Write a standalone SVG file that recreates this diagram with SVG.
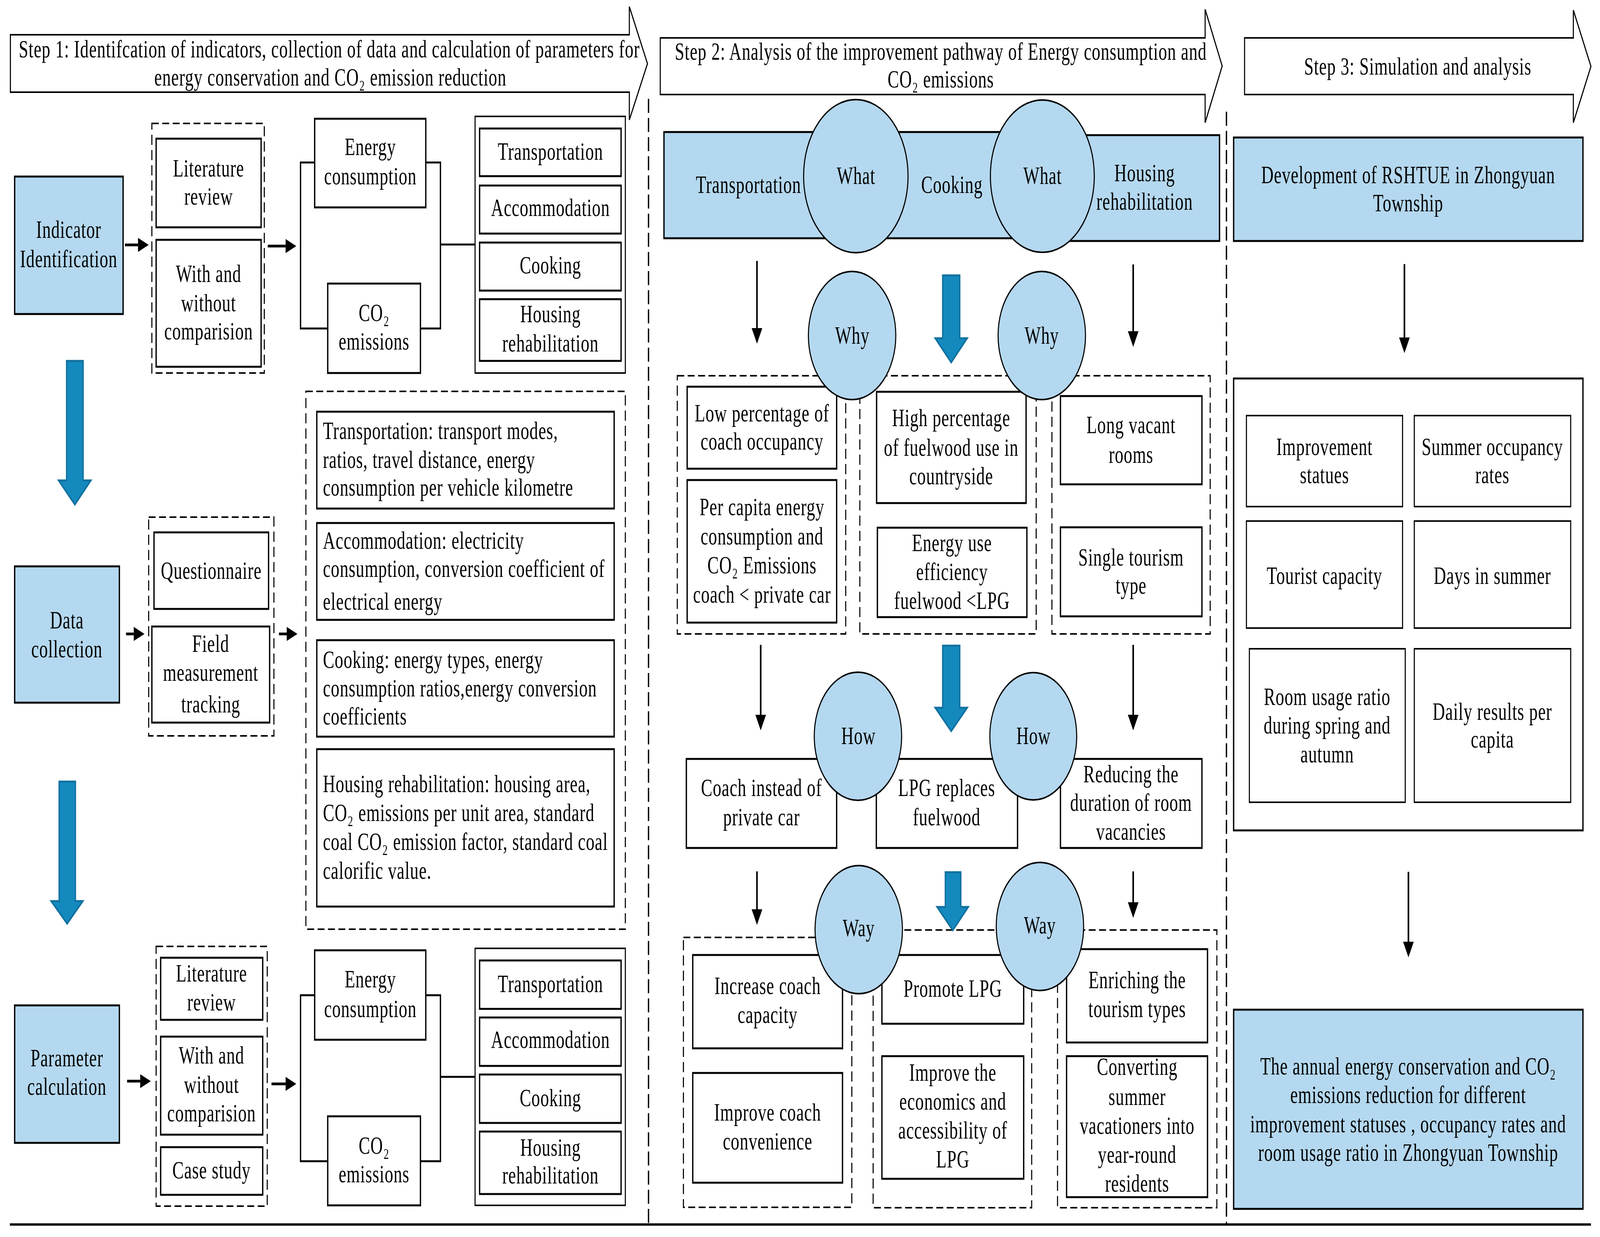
<svg xmlns="http://www.w3.org/2000/svg" width="6005" height="3167" viewBox="0 0 6005 3167" preserveAspectRatio="none" style="width:100vw;height:100vh;display:block">
<defs>
<style>
text{font-family:"Liberation Serif","Times New Roman",serif;font-size:64px;letter-spacing:1.5px;fill:#000}
.c{text-anchor:middle}
.box{fill:#fff;stroke:#000;stroke-width:5}
.thin{fill:#fff;stroke:#000;stroke-width:4}
.blue{fill:#B4D8EF;stroke:#000;stroke-width:5}
.circ{fill:#B4D8EF;stroke:#000;stroke-width:4}
.dash{fill:none;stroke:#000;stroke-width:4;stroke-dasharray:26 13}
.div{fill:none;stroke:#000;stroke-width:5;stroke-dasharray:36 13}
.ln{fill:none;stroke:#000;stroke-width:5}
.head{fill:#fff;stroke:#000;stroke-width:4}
.barr{fill:#1489BE;stroke:#10709E;stroke-width:5}
.ar{fill:none;stroke:#000;stroke-width:6;marker-end:url(#ah)}
.ars{fill:none;stroke:#000;stroke-width:7;marker-end:url(#ahs)}
</style>
<marker id="ah" viewBox="0 -20 40 40" markerWidth="40" markerHeight="40" refX="0" refY="0" orient="auto" markerUnits="userSpaceOnUse"><path d="M0,-20 L40,0 L0,20 z" fill="#000"/></marker>
<marker id="ahs" viewBox="0 -18 40 36" markerWidth="40" markerHeight="36" refX="0" refY="0" orient="auto" markerUnits="userSpaceOnUse"><path d="M0,-18 L40,0 L0,18 z" fill="#000"/></marker>
</defs>
<rect width="6005" height="3167" fill="#fff"/>

<g id="step1-header">
<polygon class="head" points="39,89 2362,89 2362,17 2430,163 2362,307 2362,236 39,236"/>
<text class="c" x="1236" y="147">Step 1: Identifcation of indicators, collection of data and calculation of parameters for</text>
<text class="c" x="1240" y="219">energy conservation and CO₂ emission reduction</text>
</g>
<g id="step2-header">
<polygon class="head" points="2478,97 4523,97 4523,24 4587,169 4523,314 4523,242 2478,242"/>
<text class="c" x="3531" y="153">Step 2: Analysis of the improvement pathway of Energy consumption and</text>
<text class="c" x="3531" y="224">CO₂ emissions</text>
</g>
<g id="step3-header">
<polygon class="head" points="4671,97 5905,97 5905,26 5971,170 5905,314 5905,242 4671,242"/>
<text class="c" x="5321" y="191">Step 3: Simulation and analysis</text>
</g>

<g id="dividers">
<line class="div" x1="2434" y1="253" x2="2434" y2="3135"/>
<line class="div" x1="4603" y1="286" x2="4603" y2="3135"/>
<line x1="37" y1="3135" x2="5971" y2="3135" stroke="#000" stroke-width="6"/>
</g>

<g id="indicator-identification">
<rect class="blue" x="55" y="452" width="407" height="352"/>
<text class="c" x="258" y="609">Indicator</text>
<text class="c" x="258" y="684">Identification</text>
</g>
<g id="s1-methods">
<rect class="dash" x="570" y="316" width="422" height="639"/>
<rect class="box" x="586" y="355" width="394" height="227"/>
<text class="c" x="783" y="452">Literature</text>
<text class="c" x="783" y="524">review</text>
<rect class="box" x="586" y="614" width="394" height="325"/>
<text class="c" x="783" y="722">With and</text>
<text class="c" x="783" y="797">without</text>
<text class="c" x="783" y="869">comparision</text>
</g>
<g id="s1-energy">
<rect class="box" x="1181" y="304" width="417" height="227"/>
<text class="c" x="1390" y="397">Energy</text>
<text class="c" x="1390" y="472">consumption</text>
</g>
<g id="s1-co2">
<rect class="box" x="1230" y="726" width="348" height="229"/>
<text class="c" x="1404" y="822">CO₂</text>
<text class="c" x="1404" y="895">emissions</text>
</g>
<g id="s1-categories">
<rect class="thin" x="1783" y="298" width="564" height="657"/>
<rect class="box" x="1800" y="329" width="531" height="122"/>
<text class="c" x="2066" y="409">Transportation</text>
<rect class="box" x="1800" y="475" width="531" height="123"/>
<text class="c" x="2066" y="553">Accommodation</text>
<rect class="box" x="1800" y="621" width="531" height="123"/>
<text class="c" x="2066" y="700">Cooking</text>
<rect class="box" x="1800" y="766" width="531" height="158"/>
<text class="c" x="2066" y="825">Housing</text>
<text class="c" x="2066" y="900">rehabilitation</text>
</g>

<g id="data-collection">
<rect class="blue" x="55" y="1450" width="393" height="349"/>
<text class="c" x="251" y="1609">Data</text>
<text class="c" x="251" y="1683">collection</text>
</g>
<g id="s2-methods">
<rect class="dash" x="558" y="1324" width="470" height="560"/>
<rect class="box" x="578" y="1363" width="430" height="196"/>
<text class="c" x="793" y="1482">Questionnaire</text>
<rect class="box" x="570" y="1604" width="442" height="246"/>
<text class="c" x="791" y="1669">Field</text>
<text class="c" x="791" y="1743">measurement</text>
<text class="c" x="791" y="1824">tracking</text>
</g>
<g id="s2-data">
<rect class="dash" x="1148" y="1002" width="1199" height="1377"/>
<rect class="box" x="1189" y="1054" width="1116" height="248"/>
<text x="1212" y="1124">Transportation: transport modes,</text>
<text x="1212" y="1198">ratios, travel distance, energy</text>
<text x="1212" y="1269">consumption per vehicle kilometre</text>
<rect class="box" x="1189" y="1339" width="1116" height="248"/>
<text x="1212" y="1405">Accommodation: electricity</text>
<text x="1212" y="1477">consumption, conversion coefficient of</text>
<text x="1212" y="1561">electrical energy</text>
<rect class="box" x="1189" y="1639" width="1116" height="247"/>
<text x="1212" y="1710">Cooking: energy types, energy</text>
<text x="1212" y="1783">consumption ratios,energy conversion</text>
<text x="1212" y="1855">coefficients</text>
<rect class="box" x="1189" y="1918" width="1116" height="403"/>
<text x="1212" y="2028">Housing rehabilitation: housing area,</text>
<text x="1212" y="2102">CO₂ emissions per unit area, standard</text>
<text x="1212" y="2176">coal CO₂ emission factor, standard coal</text>
<text x="1212" y="2250">calorific value.</text>
</g>

<g id="parameter-calculation">
<rect class="blue" x="55" y="2574" width="393" height="352"/>
<text class="c" x="251" y="2730">Parameter</text>
<text class="c" x="251" y="2803">calculation</text>
</g>
<g id="s3-methods">
<rect class="dash" x="586" y="2423" width="417" height="665"/>
<rect class="box" x="603" y="2452" width="383" height="159"/>
<text class="c" x="794" y="2513">Literature</text>
<text class="c" x="794" y="2587">review</text>
<rect class="box" x="603" y="2654" width="383" height="251"/>
<text class="c" x="794" y="2723">With and</text>
<text class="c" x="794" y="2798">without</text>
<text class="c" x="794" y="2871">comparision</text>
<rect class="box" x="603" y="2937" width="383" height="122"/>
<text class="c" x="794" y="3017">Case study</text>
</g>
<g id="s3-energy">
<rect class="box" x="1181" y="2433" width="417" height="229"/>
<text class="c" x="1390" y="2528">Energy</text>
<text class="c" x="1390" y="2604">consumption</text>
</g>
<g id="s3-co2">
<rect class="box" x="1230" y="2858" width="348" height="228"/>
<text class="c" x="1404" y="2954">CO₂</text>
<text class="c" x="1404" y="3027">emissions</text>
</g>
<g id="s3-categories">
<rect class="thin" x="1783" y="2428" width="564" height="658"/>
<rect class="box" x="1800" y="2459" width="531" height="124"/>
<text class="c" x="2066" y="2540">Transportation</text>
<rect class="box" x="1800" y="2605" width="531" height="124"/>
<text class="c" x="2066" y="2683">Accommodation</text>
<rect class="box" x="1800" y="2751" width="531" height="124"/>
<text class="c" x="2066" y="2832">Cooking</text>
<rect class="box" x="1800" y="2897" width="531" height="160"/>
<text class="c" x="2066" y="2959">Housing</text>
<text class="c" x="2066" y="3030">rehabilitation</text>
</g>

<g id="what-band">
<rect class="blue" x="2492" y="338" width="1408" height="272"/>
<rect class="blue" x="3900" y="346" width="677" height="271"/>
<text class="c" x="2809" y="494">Transportation</text>
<text class="c" x="3573" y="494">Cooking</text>
<text class="c" x="4296" y="464">Housing</text>
<text class="c" x="4296" y="537">rehabilitation</text>
</g>
<g id="why-boxes">
<rect class="dash" x="2542" y="962" width="632" height="661"/>
<rect class="dash" x="3227" y="962" width="662" height="661"/>
<rect class="dash" x="3948" y="962" width="594" height="661"/>
<rect class="box" x="2579" y="990" width="561" height="210"/>
<text class="c" x="2860" y="1079">Low percentage of</text>
<text class="c" x="2860" y="1151">coach occupancy</text>
<rect class="box" x="2579" y="1229" width="561" height="365"/>
<text class="c" x="2860" y="1319">Per capita energy</text>
<text class="c" x="2860" y="1394">consumption and</text>
<text class="c" x="2860" y="1468">CO₂ Emissions</text>
<text class="c" x="2860" y="1543">coach &lt; private car</text>
<rect class="box" x="3290" y="1003" width="561" height="285"/>
<text class="c" x="3570" y="1091">High percentage</text>
<text class="c" x="3570" y="1167">of fuelwood use in</text>
<text class="c" x="3570" y="1240">countryside</text>
<rect class="box" x="3293" y="1351" width="561" height="229"/>
<text class="c" x="3573" y="1411">Energy use</text>
<text class="c" x="3573" y="1485">efficiency</text>
<text class="c" x="3573" y="1559">fuelwood &lt;LPG</text>
<rect class="box" x="3980" y="1014" width="531" height="226"/>
<text class="c" x="4245" y="1109">Long vacant</text>
<text class="c" x="4245" y="1185">rooms</text>
<rect class="box" x="3980" y="1350" width="531" height="228"/>
<text class="c" x="4245" y="1448">Single tourism</text>
<text class="c" x="4245" y="1520">type</text>
</g>
<g id="how-boxes">
<rect class="box" x="2576" y="1943" width="564" height="228"/>
<text class="c" x="2858" y="2038">Coach instead of</text>
<text class="c" x="2858" y="2113">private car</text>
<rect class="box" x="3289" y="1943" width="530" height="228"/>
<text class="c" x="3553" y="2038">LPG replaces</text>
<text class="c" x="3553" y="2113">fuelwood</text>
<rect class="box" x="3980" y="1943" width="531" height="228"/>
<text class="c" x="4245" y="2003">Reducing the</text>
<text class="c" x="4245" y="2076">duration of room</text>
<text class="c" x="4245" y="2150">vacancies</text>
</g>
<g id="way-boxes">
<rect class="dash" x="2565" y="2400" width="632" height="691"/>
<rect class="dash" x="3277" y="2381" width="595" height="711"/>
<rect class="dash" x="3969" y="2381" width="598" height="711"/>
<rect class="box" x="2600" y="2445" width="562" height="239"/>
<text class="c" x="2881" y="2545">Increase coach</text>
<text class="c" x="2881" y="2619">capacity</text>
<rect class="box" x="2600" y="2747" width="562" height="281"/>
<text class="c" x="2881" y="2869">Improve coach</text>
<text class="c" x="2881" y="2943">convenience</text>
<rect class="box" x="3310" y="2445" width="532" height="176"/>
<text class="c" x="3576" y="2552">Promote LPG</text>
<rect class="box" x="3310" y="2704" width="532" height="314"/>
<text class="c" x="3576" y="2767">Improve the</text>
<text class="c" x="3576" y="2841">economics and</text>
<text class="c" x="3576" y="2915">accessibility of</text>
<text class="c" x="3576" y="2989">LPG</text>
<rect class="box" x="4003" y="2430" width="529" height="239"/>
<text class="c" x="4268" y="2530">Enriching the</text>
<text class="c" x="4268" y="2604">tourism types</text>
<rect class="box" x="4003" y="2704" width="529" height="361"/>
<text class="c" x="4268" y="2752">Converting</text>
<text class="c" x="4268" y="2829">summer</text>
<text class="c" x="4268" y="2903">vacationers into</text>
<text class="c" x="4268" y="2977">year-round</text>
<text class="c" x="4268" y="3051">residents</text>
</g>
<g id="what-1"><circle class="circ" cx="3212" cy="451" r="196"/><text class="c" x="3213" y="471">What</text></g>
<g id="what-2"><circle class="circ" cx="3912" cy="451" r="195"/><text class="c" x="3913" y="471">What</text></g>
<g id="why-1"><circle class="circ" cx="3198" cy="859" r="164"/><text class="c" x="3199" y="880">Why</text></g>
<g id="why-2"><circle class="circ" cx="3910" cy="859" r="164"/><text class="c" x="3910" y="880">Why</text></g>
<g id="how-1"><circle class="circ" cx="3220" cy="1885" r="164"/><text class="c" x="3222" y="1905">How</text></g>
<g id="how-2"><circle class="circ" cx="3878" cy="1885" r="163"/><text class="c" x="3879" y="1905">How</text></g>
<g id="way-1"><circle class="circ" cx="3223" cy="2380" r="164"/><text class="c" x="3223" y="2397">Way</text></g>
<g id="way-2"><circle class="circ" cx="3903" cy="2372" r="164"/><text class="c" x="3903" y="2390">Way</text></g>

<g id="development">
<rect class="blue" x="4630" y="352" width="1311" height="265"/>
<text class="c" x="5285" y="469">Development of RSHTUE in Zhongyuan</text>
<text class="c" x="5285" y="541">Township</text>
</g>
<g id="scenarios">
<rect class="box" x="4630" y="969" width="1311" height="1157"/>
<rect class="thin" x="4678" y="1064" width="586" height="233"/>
<text class="c" x="4971" y="1165">Improvement</text>
<text class="c" x="4971" y="1237">statues</text>
<rect class="thin" x="5308" y="1064" width="587" height="233"/>
<text class="c" x="5601" y="1165">Summer occupancy</text>
<text class="c" x="5601" y="1237">rates</text>
<rect class="thin" x="4678" y="1334" width="586" height="274"/>
<text class="c" x="4971" y="1495">Tourist capacity</text>
<rect class="thin" x="5308" y="1334" width="587" height="274"/>
<text class="c" x="5601" y="1495">Days in summer</text>
<rect class="thin" x="4689" y="1661" width="585" height="393"/>
<text class="c" x="4981" y="1805">Room usage ratio</text>
<text class="c" x="4981" y="1878">during spring and</text>
<text class="c" x="4981" y="1952">autumn</text>
<rect class="thin" x="5308" y="1661" width="587" height="393"/>
<text class="c" x="5601" y="1843">Daily results per</text>
<text class="c" x="5601" y="1914">capita</text>
</g>
<g id="result">
<rect class="blue" x="4630" y="2585" width="1311" height="510"/>
<text class="c" x="5285" y="2751">The annual energy conservation and CO₂</text>
<text class="c" x="5285" y="2824">emissions reduction for different</text>
<text class="c" x="5285" y="2899">improvement statuses , occupancy rates and</text>
<text class="c" x="5285" y="2972">room usage ratio in Zhongyuan Township</text>
</g>

<g id="connectors">
<line class="ars" x1="469" y1="627" x2="518" y2="627"/>
<line class="ars" x1="1005" y1="630" x2="1072" y2="630"/>
<line class="ars" x1="473" y1="1623" x2="502" y2="1623"/>
<line class="ars" x1="1047" y1="1623" x2="1076" y2="1623"/>
<line class="ars" x1="477" y1="2768" x2="526" y2="2768"/>
<line class="ars" x1="1019" y1="2775" x2="1072" y2="2775"/>
<polyline class="ln" points="1181,416 1128,416 1128,841 1230,841"/>
<polyline class="ln" points="1598,416 1653,416 1653,841 1578,841"/>
<line class="ln" x1="1653" y1="626" x2="1783" y2="626"/>
<polyline class="ln" points="1181,2548 1128,2548 1128,2973 1230,2973"/>
<polyline class="ln" points="1598,2548 1653,2548 1653,2973 1578,2973"/>
<line class="ln" x1="1653" y1="2757" x2="1783" y2="2757"/>
<polygon class="barr" points="250,924 312,924 312,1230 341,1230 281,1292 220,1230 250,1230"/>
<polygon class="barr" points="222,2001 283,2001 283,2307 311,2307 252,2365 192,2307 222,2307"/>
<line class="ar" x1="2841" y1="668" x2="2841" y2="840"/>
<line class="ar" x1="4253" y1="677" x2="4253" y2="848"/>
<line class="ar" x1="2855" y1="1651" x2="2855" y2="1830"/>
<line class="ar" x1="4253" y1="1651" x2="4253" y2="1830"/>
<line class="ar" x1="2841" y1="2231" x2="2841" y2="2328"/>
<line class="ar" x1="4253" y1="2231" x2="4253" y2="2310"/>
<polygon class="barr" points="3538,705 3602,705 3602,866 3630,866 3570,928 3510,866 3538,866"/>
<polygon class="barr" points="3538,1653 3602,1653 3602,1812 3630,1812 3570,1872 3510,1812 3538,1812"/>
<polygon class="barr" points="3548,2233 3606,2233 3606,2322 3634,2322 3576,2382 3517,2322 3548,2322"/>
<line class="ar" x1="5271" y1="676" x2="5271" y2="864"/>
<line class="ar" x1="5286" y1="2232" x2="5286" y2="2411"/>
</g>
</svg>
